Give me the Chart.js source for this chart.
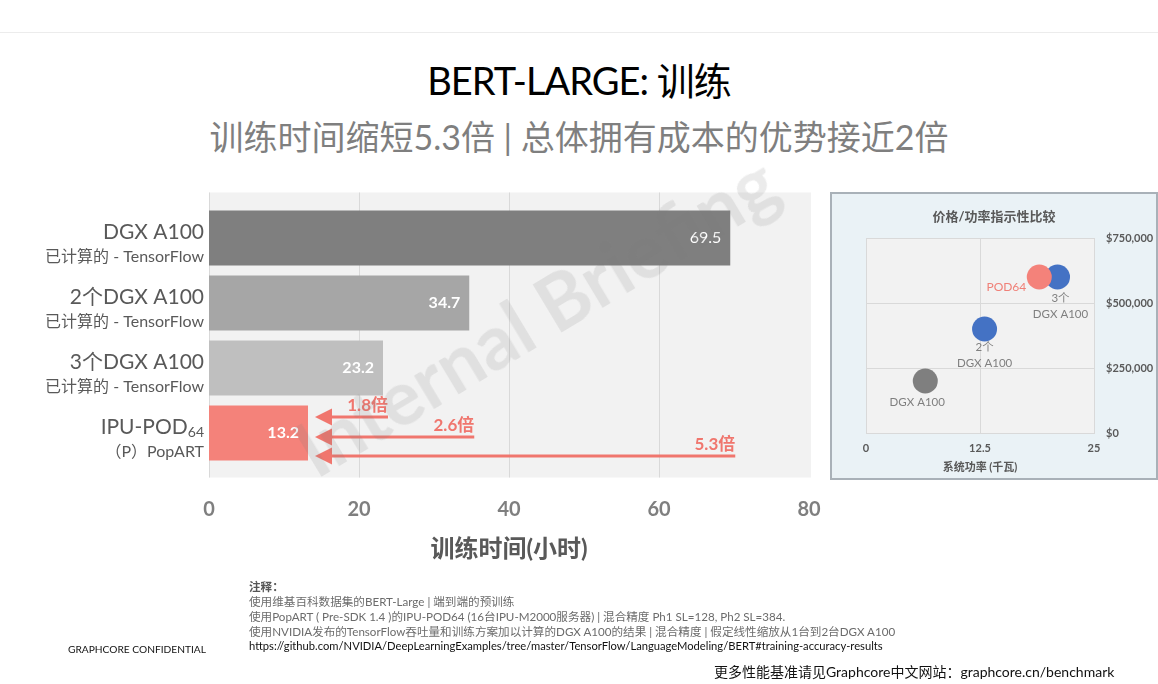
<!DOCTYPE html>
<html>
<head>
<meta charset="utf-8">
<script src="https://cdn.jsdelivr.net/npm/chart.js@4.4.0/dist/chart.umd.min.js"></script>
<style>
html,body{margin:0;padding:0;background:#fff;}
body{width:1158px;height:684px;position:relative;overflow:hidden;font-family:Lato,"Noto Sans CJK SC",sans-serif;}
.topline{position:absolute;left:0;top:32px;width:1158px;height:1px;background:#ececec;}
h1{position:absolute;left:0;width:1158px;top:56px;margin:0;text-align:center;font-weight:400;font-size:38px;color:#000;line-height:48px;letter-spacing:-1px;}
.sub{position:absolute;left:0;width:1158px;top:115px;text-align:center;font-size:34px;color:#7f7f7f;line-height:44px;}
#barWrap{position:absolute;left:0;top:0;width:830px;height:684px;}
#panel{position:absolute;left:830px;top:192px;width:324px;height:284px;background:#eaf2f6;border:2px solid #a9b1b8;}
#scWrap{position:absolute;left:0;top:0;width:324px;height:284px;}
.wm{position:absolute;left:535px;top:314px;transform:translate(-50%,-50%) rotate(-31deg);font-size:76px;font-weight:700;color:rgba(120,120,120,0.15);white-space:nowrap;pointer-events:none;}
.note{position:absolute;left:249px;font-size:11.6px;line-height:14px;color:#6b6b6b;white-space:nowrap;}
.conf{position:absolute;left:68px;top:643px;font-size:10.2px;line-height:12px;color:#111;white-space:nowrap;}
.more{position:absolute;left:714px;top:663px;font-size:14px;line-height:18px;color:#111;white-space:nowrap;}
</style>
</head>
<body>
<div class="topline"></div>
<h1>BERT-LARGE: 训练</h1>
<div class="sub">训练时间缩短5.3倍 | 总体拥有成本的优势接近2倍</div>
<div id="barWrap"><canvas id="bar"></canvas></div>
<div id="panel"><div id="scWrap"><canvas id="sc"></canvas></div></div>
<div class="wm">Internal Briefing</div>
<div class="note" style="top:580px;font-weight:700;color:#555;">注释：</div>
<div class="note" style="top:595px;">使用维基百科数据集的BERT-Large | 端到端的预训练</div>
<div class="note" style="top:610px;">使用PopART ( Pre-SDK 1.4 )的IPU-POD64 (16台IPU-M2000服务器) | 混合精度 Ph1 SL=128, Ph2 SL=384.</div>
<div class="note" style="top:625px;">使用NVIDIA发布的TensorFlow吞吐量和训练方案加以计算的DGX A100的结果 | 混合精度 | 假定线性缩放从1台到2台DGX A100</div>
<div class="note" style="top:639px;color:#111;font-size:11.2px;">https://github.com/NVIDIA/DeepLearningExamples/tree/master/TensorFlow/LanguageModeling/BERT#training-accuracy-results</div>
<div class="conf">GRAPHCORE CONFIDENTIAL</div>
<div class="more">更多性能基准请见Graphcore中文网站：graphcore.cn/benchmark</div>
<script>
// ---------- data ----------
const categories = ["DGX A100", "2个DGX A100", "3个DGX A100", "IPU-POD"];
const categorySubscripts = ["", "", "", "64"];
const categorySubLabels = ["已计算的 - TensorFlow", "已计算的 - TensorFlow", "已计算的 - TensorFlow", "（P）PopART"];
const trainingHours = [69.5, 34.7, 23.2, 13.2];
const speedupLabels = ["1.8倍", "2.6倍", "5.3倍"];
const speedupFrom = [23.2, 34.7, 69.5];
const xTicks = [0, 20, 40, 60, 80];
const xTitle = "训练时间(小时)";

const scatterNames = [["DGX A100"], ["2个", "DGX A100"], ["3个", "DGX A100"], ["POD64"]];
const scatterPowerKW = [6.5, 13, 21, 19];
const scatterPriceUSD = [200000, 400000, 600000, 600000];
const scatterTitle = "价格/功率指示性比较";
const scatterXTitle = "系统功率 (千瓦)";

// ---------- styles ----------
const FONT = 'Lato, "Noto Sans CJK SC", sans-serif';
const barColors = ["#7f7f7f", "#a6a6a6", "#bfbfbf", "#f4827a"];
const salmon = "#f0766e";

const barBgPlugin = {
  id: 'barBg',
  beforeDraw(chart) {
    const {ctx, chartArea: a, scales: {x}} = chart;
    const top = a.top - 13, bottom = a.bottom + 12;
    ctx.save();
    ctx.fillStyle = "#f2f2f2";
    ctx.fillRect(a.left, top, a.right - a.left + 2, bottom - top);
    ctx.strokeStyle = "#d9d9d9";
    ctx.lineWidth = 1;
    xTicks.slice(0, -1).forEach(v => {
      const px = Math.round(x.getPixelForValue(v)) + 0.5;
      ctx.beginPath(); ctx.moveTo(px, top); ctx.lineTo(px, bottom); ctx.stroke();
    });
    ctx.restore();
  },
  afterDatasetsDraw(chart) {
    const {ctx, scales: {x, y}} = chart;
    const meta = chart.getDatasetMeta(0);
    ctx.save();
    const weights = [400, 700, 700, 700];
    meta.data.forEach((bar, i) => {
      ctx.font = `${weights[i]} 16px ${FONT}`;
      ctx.fillStyle = "#fff";
      ctx.textAlign = "right";
      ctx.textBaseline = "middle";
      ctx.fillText(String(trainingHours[i]), bar.x - 9, bar.y);
    });
    categories.forEach((c, i) => {
      const cy = y.getPixelForValue(i);
      const right = 204;
      ctx.fillStyle = "#595959";
      ctx.textAlign = "right";
      ctx.textBaseline = "middle";
      let r = right;
      if (categorySubscripts[i]) {
        ctx.font = `400 14px ${FONT}`;
        ctx.fillText(categorySubscripts[i], r, cy - 1);
        r -= ctx.measureText(categorySubscripts[i]).width;
      }
      ctx.font = `400 21px ${FONT}`;
      ctx.fillText(c, r, cy - 6);
      ctx.font = `400 16px ${FONT}`;
      ctx.fillText(categorySubLabels[i], right, cy + 19);
    });
    const ipuBar = meta.data[3];
    const tipX = x.getPixelForValue(trainingHours[3]) + 7;
    const offsets = [-16, 4, 23];
    speedupFrom.forEach((v, k) => {
      const ly = ipuBar.y + offsets[k];
      const endX = x.getPixelForValue(v) + 5;
      ctx.strokeStyle = salmon;
      ctx.fillStyle = salmon;
      ctx.lineWidth = 3;
      ctx.beginPath(); ctx.moveTo(tipX + 14, ly); ctx.lineTo(endX, ly); ctx.stroke();
      ctx.beginPath();
      ctx.moveTo(tipX, ly); ctx.lineTo(tipX + 17, ly - 8.5); ctx.lineTo(tipX + 17, ly + 8.5); ctx.closePath(); ctx.fill();
      ctx.font = `700 17px ${FONT}`;
      ctx.textAlign = "right";
      ctx.textBaseline = "middle";
      ctx.fillText(speedupLabels[k], endX, ly - 11);
    });
    ctx.restore();
  }
};

new Chart(document.getElementById('bar'), {
  type: 'bar',
  data: {
    labels: categories,
    datasets: [{
      data: trainingHours,
      backgroundColor: barColors,
      borderWidth: 0,
      barPercentage: 1,
      categoryPercentage: 0.846
    }]
  },
  options: {
    indexAxis: 'y',
    responsive: true,
    maintainAspectRatio: false,
    animation: false,
    layout: {padding: {left: 209, right: 21, top: 205.5, bottom: 0}},
    plugins: {legend: {display: false}, tooltip: {enabled: false}},
    scales: {
      x: {
        min: 0, max: 80,
        afterBuildTicks: s => { s.ticks = xTicks.map(v => ({value: v})); },
        grid: {display: false, drawTicks: true, tickLength: 32},
        border: {display: false},
        ticks: {color: "#7f7f7f", font: {family: FONT, size: 20, weight: 700}, padding: 0},
        title: {display: true, text: xTitle, color: "#595959", font: {family: FONT, size: 24, weight: 700}, padding: {top: 0, bottom: 120}},
        afterFit: s => { s.height = 218.5; }
      },
      y: {display: false}
    }
  },
  plugins: [barBgPlugin]
});

// ---------- scatter ----------
const scPlugin = {
  id: 'scBg',
  beforeDraw(chart) {
    const {ctx, chartArea: a} = chart;
    ctx.save();
    ctx.fillStyle = "#f2f2f2";
    ctx.fillRect(a.left, a.top, a.right - a.left, a.bottom - a.top);
    ctx.restore();
  },
  afterDatasetsDraw(chart) {
    const {ctx} = chart;
    const meta = chart.getDatasetMeta(0);
    const place = [
      {dx: -8, dy: 21, align: "center"},
      {dx: 0, dy: 18, align: "center"},
      {dx: 3, dy: 21, align: "center"},
      {dx: -13, dy: 10, align: "right"}
    ];
    const colors = ["#7f7f7f", "#7f7f7f", "#7f7f7f", "#f08078"];
    const sizes = [11.5, 11.5, 11.5, 12];
    ctx.save();
    meta.data.forEach((pt, i) => {
      const p = place[i];
      ctx.font = `400 ${sizes[i]}px ${FONT}`;
      ctx.fillStyle = colors[i];
      ctx.textAlign = p.align;
      ctx.textBaseline = "middle";
      scatterNames[i].forEach((line, j) => {
        ctx.fillText(line, pt.x + p.dx, pt.y + p.dy + j * 16);
      });
    });
    ctx.restore();
  }
};

new Chart(document.getElementById('sc'), {
  type: 'scatter',
  data: {
    datasets: [{
      data: scatterPowerKW.map((v, i) => ({x: v, y: scatterPriceUSD[i]})),
      backgroundColor: ["#7f7f7f", "#4472c4", "#4472c4", "#f4827a"],
      pointRadius: 12.5,
      pointBorderWidth: 0
    }]
  },
  options: {
    responsive: true,
    maintainAspectRatio: false,
    animation: false,
    layout: {padding: 0},
    plugins: {
      legend: {display: false},
      tooltip: {enabled: false},
      title: {display: true, text: scatterTitle, color: "#595959", font: {family: FONT, size: 13, weight: 700}, padding: {top: 15, bottom: 13.4}}
    },
    scales: {
      x: {
        type: 'linear', min: 0, max: 25,
        ticks: {stepSize: 12.5, color: "#595959", font: {family: FONT, size: 11, weight: 700}, padding: 9},
        grid: {color: "#d9d9d9", drawTicks: false},
        border: {color: "#d9d9d9"},
        title: {display: true, text: scatterXTitle, color: "#595959", font: {family: FONT, size: 11, weight: 700}, padding: {top: 0, bottom: 4}},
        afterFit: s => { s.height = 45; }
      },
      y: {
        position: 'right', min: 0, max: 750000,
        ticks: {stepSize: 250000, color: "#595959", font: {family: FONT, size: 11, weight: 700}, padding: 12,
          callback: v => "$" + Number(v).toLocaleString('en-US')},
        grid: {color: "#d9d9d9", drawTicks: false},
        border: {color: "#d9d9d9"},
        afterFit: s => { s.width = 62; }
      },
      yL: {
        position: 'left', display: true,
        ticks: {display: false}, grid: {display: false}, border: {display: false},
        afterFit: s => { s.width = 34; }
      }
    }
  },
  plugins: [scPlugin]
});
</script>
</body>
</html>
